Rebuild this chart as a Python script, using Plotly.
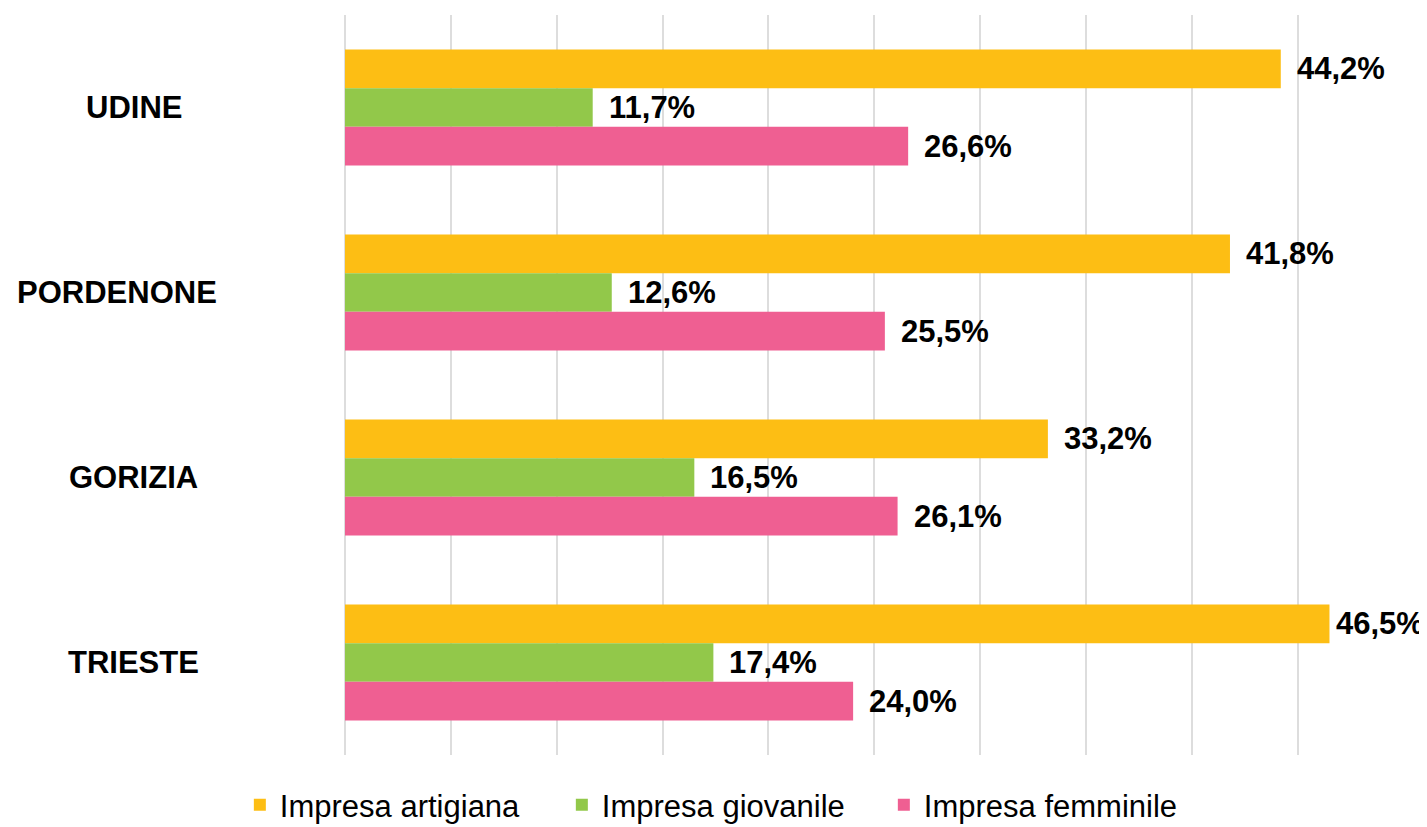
import plotly.graph_objects as go

categories = ["UDINE", "PORDENONE", "GORIZIA", "TRIESTE"]
series_names = ["Impresa artigiana", "Impresa giovanile", "Impresa femminile"]
artigiana = [44.2, 41.8, 33.2, 46.5]
giovanile = [11.7, 12.6, 16.5, 17.4]
femminile = [26.6, 25.5, 26.1, 24.0]
x_ticks = [0, 5, 10, 15, 20, 25, 30, 35, 40, 45, 50]

colors = ["#FDBE14", "#92C84A", "#EF5F92"]
series_values = [artigiana, giovanile, femminile]

FONT = "Liberation Sans, Arial, sans-serif"
FS = 31

# page has an 8px body margin: figure is drawn from (8, 8)
OFF = 8
W, H = 1427 - OFF, 827 - OFF
plot_left, plot_right, plot_top, plot_bottom = 345, 1404, 15, 755  # page px
x_max = 50.02
px_per_unit = (plot_right - plot_left) / 50.0

fig = go.Figure()
for name, vals, col in zip(series_names, series_values, colors):
    fig.add_trace(go.Bar(
        y=categories, x=vals, name=name, orientation="h",
        marker=dict(color=col, line=dict(width=0)),
        hoverinfo="x+y+name",
    ))

# data labels (pushed left when they would run off the right edge)
bar_px = 38.6
label_w = 91
shifts = [bar_px, 0, -bar_px]
for vals, ys in zip(series_values, shifts):
    for cat, v in zip(categories, vals):
        bar_end = plot_left + v * px_per_unit
        xs = min(14, 1425 - label_w - bar_end)
        fig.add_annotation(
            x=v, y=cat, xref="x", yref="y",
            text=f"<b>{v:.1f}%</b>".replace(".", ","),
            showarrow=False, xanchor="left", yanchor="middle",
            xshift=xs, yshift=ys,
            font=dict(family=FONT, size=FS, color="#000000"),
        )

# category labels
plot_w = plot_right - plot_left
label_center_px = 133.5
label_shift = {"PORDENONE": -17}
for cat in categories:
    cx = label_center_px + label_shift.get(cat, 0)
    fig.add_annotation(
        x=(cx - plot_left) / plot_w, y=cat, xref="paper", yref="y",
        text=f"<b>{cat}</b>", showarrow=False,
        xanchor="center", yanchor="middle",
        font=dict(family=FONT, size=FS, color="#000000"),
    )

plot_h = plot_bottom - plot_top
fig.update_layout(
    width=W, height=H,
    margin=dict(l=plot_left - OFF, r=W - (plot_right - OFF),
                t=plot_top - OFF, b=H - (plot_bottom - OFF), autoexpand=False),
    paper_bgcolor="white", plot_bgcolor="white",
    barmode="group", bargap=0.373, bargroupgap=0,
    font=dict(family=FONT, size=FS, color="#000000"),
    showlegend=True,
    legend=dict(
        orientation="h", traceorder="normal",
        x=-0.0993, xanchor="left",
        y=-(832 - plot_bottom) / plot_h, yanchor="bottom",
        font=dict(family=FONT, size=FS, color="#000000"),
        entrywidth=277, entrywidthmode="pixels",
        bgcolor="rgba(0,0,0,0)",
    ),
    xaxis=dict(
        range=[0, x_max], tickvals=x_ticks, showticklabels=False,
        showgrid=True, gridcolor="#DDDDDD", gridwidth=2,
        zeroline=True, zerolinecolor="#DDDDDD", zerolinewidth=2,
        showline=False, fixedrange=True,
    ),
    yaxis=dict(
        categoryorder="array", categoryarray=categories,
        autorange="reversed", showticklabels=False,
        showgrid=False, zeroline=False, showline=False,
    ),
)

fig.write_html("out.html")
